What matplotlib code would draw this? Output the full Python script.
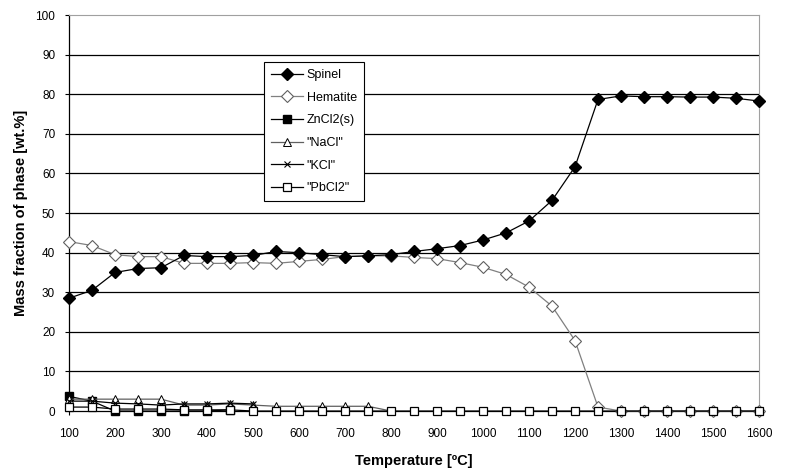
import numpy as np
import matplotlib.pyplot as plt

plt.rcParams["font.family"] = ["Liberation Sans", "DejaVu Sans"]

temperature = list(range(100, 1650, 50))

spinel = [28.5, 30.5, 35.0, 36.0, 36.2, 39.3, 39.0, 39.0, 39.3, 40.3, 40.0,
          39.5, 39.0, 39.2, 39.5, 40.3, 41.0, 41.8, 43.2, 45.0, 48.0, 53.2,
          61.7, 78.7, 79.6, 79.4, 79.4, 79.3, 79.3, 79.0, 78.3]
hematite = [42.8, 41.8, 39.5, 39.0, 39.0, 37.3, 37.3, 37.3, 37.5, 37.3, 37.8,
            38.3, 39.0, 39.2, 39.2, 38.8, 38.5, 37.5, 36.3, 34.5, 31.3, 26.5,
            17.8, 1.0, 0.0, 0.0, 0.0, 0.0, 0.0, 0.0, 0.0]
zncl2_temp = [100, 150, 200, 250, 300, 350, 400, 450]
zncl2 = [3.7, 2.5, 0.0, 0.0, 0.0, 0.0, 0.0, 0.3]
nacl_temp = [100, 150, 200, 250, 300, 350, 400, 450, 500, 550, 600, 650, 700, 750, 800]
nacl = [3.0, 3.0, 3.0, 3.0, 3.0, 1.5, 1.5, 1.8, 1.5, 1.2, 1.2, 1.2, 1.2, 1.2, 0.0]
kcl_temp = [100, 150, 200, 250, 300, 350, 400, 450, 500]
kcl = [2.5, 2.5, 2.0, 1.8, 1.5, 1.8, 1.8, 2.0, 1.8]
pbcl2 = [1.0, 1.0, 0.5, 0.5, 0.5, 0.3, 0.3, 0.3] + [0.0] * 23

fig = plt.figure(figsize=(7.88, 4.73), dpi=100)
ax = fig.add_axes([0.0876, 0.131, 0.8756, 0.837])

for y in range(10, 100, 10):
    ax.axhline(y, color="black", lw=0.9, zorder=0)

ax.plot(temperature, spinel, color="black", lw=0.9, marker="D", ms=6.5,
        mfc="black", mec="black", label="Spinel", clip_on=False, zorder=5)
ax.plot(temperature, hematite, color="#808080", lw=0.9, marker="D", ms=6.5,
        mfc="white", mec="#606060", mew=0.8, label="Hematite", clip_on=False, zorder=4)
ax.plot(zncl2_temp, zncl2, color="black", lw=0.9, marker="s", ms=6,
        mfc="black", mec="black", label="ZnCl2(s)", clip_on=False, zorder=3)
ax.plot(nacl_temp, nacl, color="#606060", lw=0.9, marker="^", ms=5.5,
        mfc="white", mec="black", mew=0.7, label='"NaCl"', clip_on=False, zorder=3)
ax.plot(kcl_temp, kcl, color="black", lw=0.9, marker="x", ms=5,
        mec="black", mew=0.8, label='"KCl"', clip_on=False, zorder=3)
ax.plot(temperature, pbcl2, color="black", lw=0.9, marker="s", ms=5.5,
        mfc="white", mec="black", mew=0.9, label='"PbCl2"', clip_on=False, zorder=4)

ax.set_xlim(100, 1600)
ax.set_ylim(0, 100)
ax.set_xticks(range(100, 1700, 100))
ax.set_yticks(range(0, 110, 10))
ax.tick_params(labelsize=8.5, length=3, width=0.8, color="black")
ax.tick_params(axis="x", pad=9)
ax.tick_params(axis="y", pad=7)

ax.spines["top"].set_color("#a0a0a0")
ax.spines["right"].set_color("#a0a0a0")
ax.spines["left"].set_linewidth(0.9)
ax.spines["bottom"].set_linewidth(0.9)

ax.set_xlabel("Temperature [ºC]", fontsize=10.5, fontweight="bold", labelpad=10)
ax.set_ylabel("Mass fraction of phase [wt.%]", fontsize=10.5, fontweight="bold", labelpad=5)

leg = ax.legend(loc="upper left", bbox_to_anchor=(0.273, 0.897), fontsize=9,
                frameon=True, fancybox=False, edgecolor="black", framealpha=1,
                handlelength=2.6, borderpad=0.55, labelspacing=0.85, handletextpad=0.3)
leg.get_frame().set_linewidth(0.8)

fig.savefig("out.png", dpi=100)
